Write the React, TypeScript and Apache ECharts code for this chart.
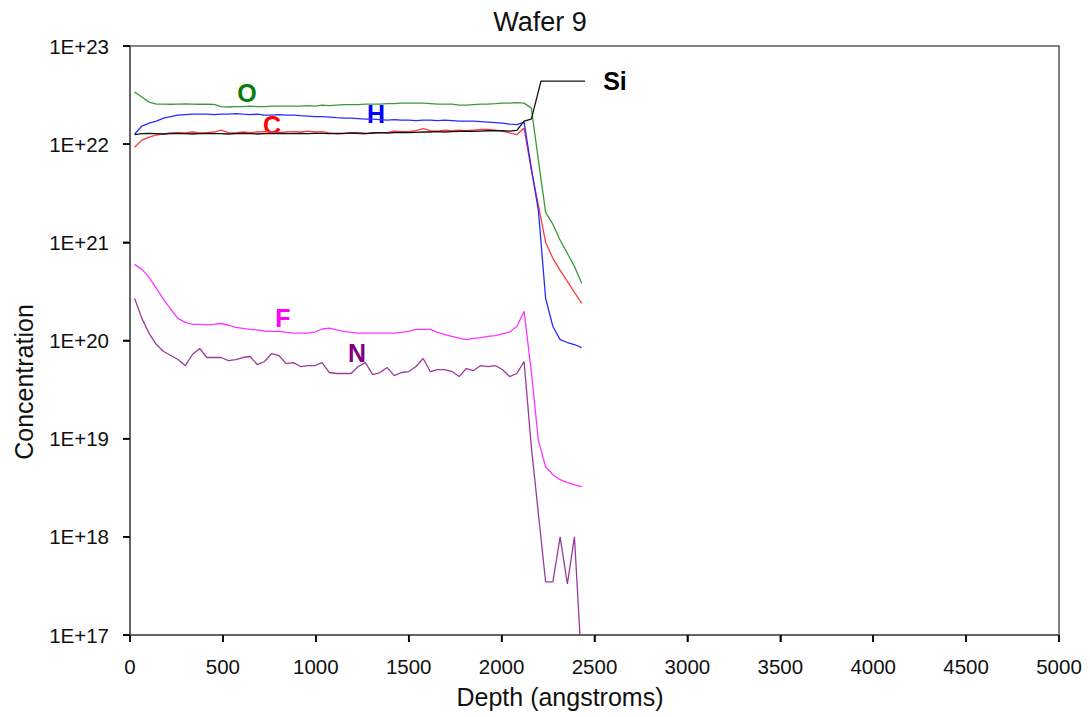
import React, { useEffect, useRef } from "react";
import * as echarts from "echarts";

// Depth grid (angstroms)
const depth = [
  25, 64, 103, 142, 181, 220, 258, 297, 336, 375, 414, 452, 491, 530, 569, 608, 646, 685, 724, 763,
  802, 840, 879, 918, 957, 996, 1034, 1073, 1112, 1151, 1190, 1228, 1267, 1306, 1345, 1384, 1422, 1461,
  1500, 1539, 1578, 1616, 1655, 1694, 1733, 1772, 1810, 1849, 1888, 1927, 1966, 2004, 2043, 2082, 2121,
  2160, 2198, 2237, 2276, 2315, 2354, 2392, 2431,
];

const oxygen = [
  3.39e22, 3.02e22, 2.68e22, 2.56e22, 2.56e22, 2.55e22, 2.56e22, 2.57e22, 2.56e22, 2.55e22, 2.56e22, 2.54e22,
  2.41e22, 2.39e22, 2.41e22, 2.41e22, 2.44e22, 2.41e22, 2.41e22, 2.44e22, 2.44e22, 2.44e22, 2.44e22, 2.44e22,
  2.47e22, 2.44e22, 2.5e22, 2.47e22, 2.5e22, 2.53e22, 2.53e22, 2.53e22, 2.56e22, 2.56e22, 2.56e22, 2.59e22,
  2.59e22, 2.62e22, 2.62e22, 2.62e22, 2.62e22, 2.59e22, 2.56e22, 2.56e22, 2.56e22, 2.5e22, 2.5e22, 2.53e22,
  2.56e22, 2.56e22, 2.59e22, 2.62e22, 2.62e22, 2.65e22, 2.62e22, 2.33e22, 6.87e21, 2.02e21, 1.53e21, 1.05e21,
  7.72e20, 5.69e20, 3.82e20,
];

const hydrogen = [
  1.27e22, 1.53e22, 1.64e22, 1.72e22, 1.84e22, 1.91e22, 1.98e22, 2.0e22, 2.02e22, 2.02e22, 2.02e22, 2.0e22,
  2.02e22, 2.02e22, 2.05e22, 2.02e22, 2.0e22, 2.02e22, 1.98e22, 1.98e22, 2.0e22, 1.98e22, 1.98e22, 1.95e22,
  1.93e22, 1.91e22, 1.91e22, 1.89e22, 1.86e22, 1.84e22, 1.84e22, 1.82e22, 1.8e22, 1.8e22, 1.78e22, 1.76e22,
  1.78e22, 1.76e22, 1.76e22, 1.74e22, 1.76e22, 1.76e22, 1.74e22, 1.76e22, 1.74e22, 1.72e22, 1.72e22, 1.72e22,
  1.7e22, 1.68e22, 1.66e22, 1.64e22, 1.6e22, 1.58e22, 1.68e22, 5.69e21, 2.12e21, 2.68e20, 1.39e20, 1.02e20,
  9.54e19, 9.1e19, 8.48e19,
];

const carbon = [
  9.32e21, 1.1e22, 1.18e22, 1.24e22, 1.27e22, 1.3e22, 1.31e22, 1.3e22, 1.33e22, 1.3e22, 1.31e22, 1.33e22,
  1.39e22, 1.31e22, 1.3e22, 1.33e22, 1.31e22, 1.33e22, 1.34e22, 1.33e22, 1.31e22, 1.33e22, 1.34e22, 1.33e22,
  1.36e22, 1.33e22, 1.34e22, 1.3e22, 1.27e22, 1.28e22, 1.3e22, 1.28e22, 1.27e22, 1.3e22, 1.31e22, 1.31e22,
  1.36e22, 1.34e22, 1.34e22, 1.37e22, 1.44e22, 1.37e22, 1.36e22, 1.39e22, 1.37e22, 1.39e22, 1.37e22, 1.39e22,
  1.41e22, 1.41e22, 1.39e22, 1.36e22, 1.3e22, 1.25e22, 1.46e22, 5.43e21, 2.39e21, 1.0e21, 6.87e20, 5.18e20,
  4.0e20, 3.09e20, 2.39e20,
];

const silicon = [
  1.25e22, 1.28e22, 1.29e22, 1.28e22, 1.27e22, 1.28e22, 1.29e22, 1.28e22, 1.27e22, 1.28e22, 1.29e22, 1.28e22,
  1.28e22, 1.27e22, 1.28e22, 1.29e22, 1.28e22, 1.27e22, 1.28e22, 1.28e22, 1.29e22, 1.28e22, 1.28e22, 1.29e22,
  1.28e22, 1.29e22, 1.29e22, 1.28e22, 1.29e22, 1.29e22, 1.3e22, 1.3e22, 1.29e22, 1.3e22, 1.31e22, 1.3e22,
  1.31e22, 1.32e22, 1.31e22, 1.32e22, 1.33e22, 1.33e22, 1.34e22, 1.33e22, 1.34e22, 1.35e22, 1.36e22, 1.35e22,
  1.36e22, 1.37e22, 1.37e22, 1.37e22, 1.36e22, 1.38e22, 1.72e22, 1.8e22,
];

const fluorine = [
  5.96e20, 5.3e20, 4.39e20, 3.39e20, 2.62e20, 2.07e20, 1.68e20, 1.53e20, 1.46e20, 1.46e20, 1.44e20, 1.46e20,
  1.49e20, 1.43e20, 1.36e20, 1.33e20, 1.3e20, 1.28e20, 1.25e20, 1.24e20, 1.24e20, 1.21e20, 1.19e20, 1.19e20,
  1.19e20, 1.22e20, 1.31e20, 1.34e20, 1.28e20, 1.24e20, 1.21e20, 1.19e20, 1.19e20, 1.19e20, 1.19e20, 1.19e20,
  1.19e20, 1.21e20, 1.24e20, 1.3e20, 1.3e20, 1.3e20, 1.21e20, 1.15e20, 1.1e20, 1.06e20, 1.02e20, 1.05e20,
  1.07e20, 1.1e20, 1.12e20, 1.17e20, 1.22e20, 1.39e20, 1.98e20, 4.83e19, 9.54e18, 5.18e18, 4.29e18, 3.82e18,
  3.56e18, 3.39e18, 3.24e18,
];

const nitrogen = [
  2.68e20, 1.68e20, 1.18e20, 9.1e19, 7.72e19, 7.03e19, 6.4e19, 5.56e19, 7.2e19, 8.29e19, 6.71e19, 6.71e19,
  6.71e19, 6.25e19, 6.4e19, 6.71e19, 6.87e19, 5.69e19, 6.11e19, 7.37e19, 7.03e19, 5.82e19, 5.96e19, 5.43e19,
  5.56e19, 5.56e19, 5.96e19, 4.72e19, 4.61e19, 4.61e19, 4.61e19, 5.43e19, 5.96e19, 4.5e19, 4.72e19, 5.3e19,
  4.39e19, 4.72e19, 4.83e19, 5.43e19, 6.55e19, 4.83e19, 5.06e19, 5.06e19, 4.83e19, 4.29e19, 5.18e19, 4.94e19,
  5.56e19, 5.43e19, 5.56e19, 5.06e19, 4.29e19, 4.61e19, 6.11e19, 8.29e18, 1.72e18, 3.47e17, 3.47e17, 1.0e18,
  3.31e17, 1.0e18, 4.83e16,
];

// Leader line for the "Si" annotation (depth, concentration)
const siLeaderDepth = [2160, 2212, 2449];
const siLeaderConc = [1.8e22, 4.39e22, 4.39e22];

const xTicks = [0, 500, 1000, 1500, 2000, 2500, 3000, 3500, 4000, 4500, 5000];
const yTicks = [1e17, 1e18, 1e19, 1e20, 1e21, 1e22, 1e23];

const FONT = "'Liberation Sans', Arial, sans-serif";

function pairs(xs: number[], ys: number[]) {
  return ys.map((v, i) => [xs[i], v]);
}

export default function App() {
  const ref = useRef<HTMLDivElement>(null);

  useEffect(() => {
    if (!ref.current) return;
    const chart = echarts.init(ref.current, undefined, { renderer: "svg" });
    const lineSeries = (name: string, data: number[], color: string) => ({
      name,
      type: "line",
      data: pairs(depth, data),
      showSymbol: false,
      symbol: "none",
      lineStyle: { color, width: 1.3 },
      itemStyle: { color },
      clip: true,
      silent: true,
    });
    const label = (text: string, x: number, y: number, color: string) => ({
      type: "text",
      x,
      y,
      style: {
        text,
        fill: color,
        font: `bold 25px ${FONT}`,
        textAlign: "center",
        textVerticalAlign: "middle",
      },
    });
    const texts: any[] = [
      {
        type: "text",
        x: 540,
        y: 22,
        style: {
          text: "Wafer 9",
          fill: "#111",
          font: `27px ${FONT}`,
          textAlign: "center",
          textVerticalAlign: "middle",
        },
      },
      {
        type: "text",
        x: 560,
        y: 697,
        style: {
          text: "Depth (angstroms)",
          fill: "#111",
          font: `25px ${FONT}`,
          textAlign: "center",
          textVerticalAlign: "middle",
        },
      },
      {
        type: "text",
        x: 24,
        y: 382,
        rotation: Math.PI / 2,
        style: {
          text: "Concentration",
          fill: "#111",
          font: `25px ${FONT}`,
          textAlign: "center",
          textVerticalAlign: "middle",
        },
      },
      label("O", 247, 93, "#0a7d0a"),
      label("C", 272, 125, "#ff0000"),
      label("H", 376, 114, "#0000ff"),
      label("F", 283, 318, "#ff00ff"),
      label("N", 357, 353, "#800080"),
      label("Si", 615, 81, "#000000"),
    ];
    chart.setOption({
      animation: false,
      backgroundColor: "#ffffff",
      grid: {
        left: 130,
        top: 46,
        right: 31,
        bottom: 82,
        show: true,
        borderColor: "#5a5a5a",
        borderWidth: 1.5,
      },
      xAxis: {
        type: "value",
        min: xTicks[0],
        max: xTicks[xTicks.length - 1],
        interval: 500,
        axisLine: { show: true, onZero: false, lineStyle: { color: "#5a5a5a", width: 1.5 } },
        axisTick: { show: true, inside: false, length: 7, lineStyle: { color: "#000", width: 1.5 } },
        axisLabel: {
          color: "#111",
          fontSize: 20.5,
          fontFamily: FONT,
          margin: 21,
          formatter: (v: number) => String(v),
        },
        splitLine: { show: false },
      },
      yAxis: {
        type: "log",
        logBase: 10,
        min: 1e17,
        max: 1e23,
        splitNumber: 6,
        axisLine: { show: true, onZero: false, lineStyle: { color: "#5a5a5a", width: 1.5 } },
        axisTick: { show: true, inside: false, length: 7, lineStyle: { color: "#000", width: 1.5 } },
        axisLabel: {
          color: "#111",
          fontSize: 20.5,
          fontFamily: FONT,
          margin: 21,
          formatter: (v: number) => "1E+" + Math.round(Math.log10(v)),
        },
        splitLine: { show: false },
        minorTick: { show: false },
      },
      series: [
        lineSeries("O", oxygen, "#3a9a3a"),
        lineSeries("C", carbon, "#ff3b3b"),
        lineSeries("H", hydrogen, "#2a2aff"),
        lineSeries("Si", silicon, "#111111"),
        lineSeries("F", fluorine, "#ff33ff"),
        lineSeries("N", nitrogen, "#9a3a9a"),
        {
          name: "Si leader",
          type: "line",
          data: pairs(siLeaderDepth, siLeaderConc),
          showSymbol: false,
          symbol: "none",
          lineStyle: { color: "#111111", width: 1.3 },
          silent: true,
        },
      ],
      graphic: texts,
    });

    // Tick marks placed through the axes' own scales
    try {
      const x0 = chart.convertToPixel({ xAxisIndex: 0 }, xTicks[0]) as number;
      const yBottom = chart.convertToPixel({ yAxisIndex: 0 }, yTicks[0]) as number;
      const tickLines: any[] = [];
      xTicks.forEach((v) => {
        const px = chart.convertToPixel({ xAxisIndex: 0 }, v) as number;
        tickLines.push({
          type: "line",
          silent: true,
          shape: { x1: px, y1: yBottom, x2: px, y2: yBottom + 7 },
          style: { stroke: "#000", lineWidth: 1.5 },
        });
      });
      yTicks.forEach((v) => {
        const py = chart.convertToPixel({ yAxisIndex: 0 }, v) as number;
        tickLines.push({
          type: "line",
          silent: true,
          shape: { x1: x0 - 7, y1: py, x2: x0, y2: py },
          style: { stroke: "#000", lineWidth: 1.5 },
        });
      });
      if (isFinite(x0) && isFinite(yBottom)) {
        chart.setOption({ graphic: [...texts, ...tickLines] });
      }
    } catch (e) {
      // keep chart as is
    }
    return () => chart.dispose();
  }, []);

  return (
    <div
      ref={ref}
      style={{ position: "fixed", left: 0, top: 0, width: 1090, height: 717, background: "#fff" }}
    />
  );
}
